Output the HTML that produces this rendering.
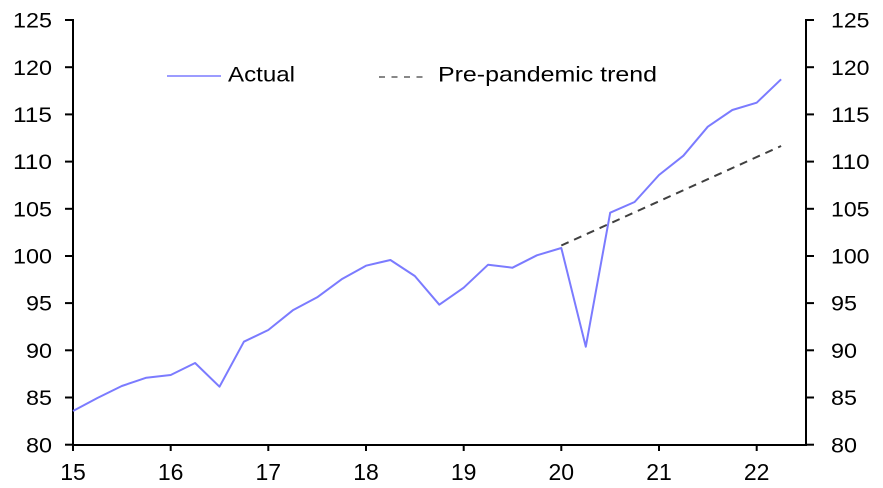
<!DOCTYPE html>
<html>
<head>
<meta charset="utf-8">
<style>
  html, body { margin: 0; padding: 0; background: #ffffff; }
  svg { display: block; }
  text { font-family: "Liberation Sans", Arial, sans-serif; fill: #000; }
</style>
</head>
<body>
<svg width="883" height="488" viewBox="0 0 883 488" xmlns="http://www.w3.org/2000/svg">
  <rect x="0" y="0" width="883" height="488" fill="#ffffff"/>

  <!-- Axes -->
  <g stroke="#000" stroke-width="2" fill="none">
    <line x1="73" y1="19" x2="73" y2="446"/>
    <line x1="806" y1="19" x2="806" y2="446"/>
    <line x1="72" y1="445" x2="807" y2="445"/>
    <!-- left ticks -->
    <line x1="65" y1="444.7" x2="73" y2="444.7"/>
    <line x1="65" y1="397.5" x2="73" y2="397.5"/>
    <line x1="65" y1="350.3" x2="73" y2="350.3"/>
    <line x1="65" y1="303.1" x2="73" y2="303.1"/>
    <line x1="65" y1="256.0" x2="73" y2="256.0"/>
    <line x1="65" y1="208.8" x2="73" y2="208.8"/>
    <line x1="65" y1="161.6" x2="73" y2="161.6"/>
    <line x1="65" y1="114.4" x2="73" y2="114.4"/>
    <line x1="65" y1="67.2" x2="73" y2="67.2"/>
    <line x1="65" y1="20.0" x2="73" y2="20.0"/>
    <!-- right ticks -->
    <line x1="806" y1="444.7" x2="814" y2="444.7"/>
    <line x1="806" y1="397.5" x2="814" y2="397.5"/>
    <line x1="806" y1="350.3" x2="814" y2="350.3"/>
    <line x1="806" y1="303.1" x2="814" y2="303.1"/>
    <line x1="806" y1="256.0" x2="814" y2="256.0"/>
    <line x1="806" y1="208.8" x2="814" y2="208.8"/>
    <line x1="806" y1="161.6" x2="814" y2="161.6"/>
    <line x1="806" y1="114.4" x2="814" y2="114.4"/>
    <line x1="806" y1="67.2" x2="814" y2="67.2"/>
    <line x1="806" y1="20.0" x2="814" y2="20.0"/>
    <!-- bottom ticks -->
    <line x1="73" y1="445" x2="73" y2="451"/>
    <line x1="170.7" y1="445" x2="170.7" y2="451"/>
    <line x1="268.3" y1="445" x2="268.3" y2="451"/>
    <line x1="366" y1="445" x2="366" y2="451"/>
    <line x1="463.7" y1="445" x2="463.7" y2="451"/>
    <line x1="561.3" y1="445" x2="561.3" y2="451"/>
    <line x1="659" y1="445" x2="659" y2="451"/>
    <line x1="756.7" y1="445" x2="756.7" y2="451"/>
  </g>

  <!-- Left y labels (right-aligned at x=52) -->
  <g font-size="21.5" text-anchor="end">
    <text x="52" y="452.3" textLength="26" lengthAdjust="spacingAndGlyphs">80</text>
    <text x="52" y="405.1" textLength="26" lengthAdjust="spacingAndGlyphs">85</text>
    <text x="52" y="357.9" textLength="26" lengthAdjust="spacingAndGlyphs">90</text>
    <text x="52" y="310.7" textLength="26" lengthAdjust="spacingAndGlyphs">95</text>
    <text x="52" y="263.6" textLength="39" lengthAdjust="spacingAndGlyphs">100</text>
    <text x="52" y="216.4" textLength="39" lengthAdjust="spacingAndGlyphs">105</text>
    <text x="52" y="169.2" textLength="39" lengthAdjust="spacingAndGlyphs">110</text>
    <text x="52" y="122.0" textLength="39" lengthAdjust="spacingAndGlyphs">115</text>
    <text x="52" y="74.8" textLength="39" lengthAdjust="spacingAndGlyphs">120</text>
    <text x="52" y="27.6" textLength="39" lengthAdjust="spacingAndGlyphs">125</text>
  </g>

  <!-- Right y labels (left-aligned at x=831) -->
  <g font-size="21.5" text-anchor="start">
    <text x="831" y="452.3" textLength="26" lengthAdjust="spacingAndGlyphs">80</text>
    <text x="831" y="405.1" textLength="26" lengthAdjust="spacingAndGlyphs">85</text>
    <text x="831" y="357.9" textLength="26" lengthAdjust="spacingAndGlyphs">90</text>
    <text x="831" y="310.7" textLength="26" lengthAdjust="spacingAndGlyphs">95</text>
    <text x="831" y="263.6" textLength="38.5" lengthAdjust="spacingAndGlyphs">100</text>
    <text x="831" y="216.4" textLength="38.5" lengthAdjust="spacingAndGlyphs">105</text>
    <text x="831" y="169.2" textLength="38.5" lengthAdjust="spacingAndGlyphs">110</text>
    <text x="831" y="122.0" textLength="38.5" lengthAdjust="spacingAndGlyphs">115</text>
    <text x="831" y="74.8" textLength="38.5" lengthAdjust="spacingAndGlyphs">120</text>
    <text x="831" y="27.6" textLength="38.5" lengthAdjust="spacingAndGlyphs">125</text>
  </g>

  <!-- X labels -->
  <g font-size="23" text-anchor="middle">
    <text x="73" y="480">15</text>
    <text x="170.7" y="480">16</text>
    <text x="268.3" y="480">17</text>
    <text x="366" y="480">18</text>
    <text x="463.7" y="480">19</text>
    <text x="561.3" y="480">20</text>
    <text x="659" y="480">21</text>
    <text x="756.7" y="480">22</text>
  </g>

  <!-- Pre-pandemic trend -->
  <line x1="561.3" y1="245.5" x2="781.1" y2="146" stroke="#404040" stroke-width="2" stroke-dasharray="8,6"/>

  <!-- Actual -->
  <polyline fill="none" stroke="#7b7bff" stroke-width="2" stroke-linejoin="round"
    points="73,411 97.4,398 121.8,386 146.3,377.7 170.7,375 195.1,363 219.5,386.7 243.9,341.7 268.3,330 292.8,310.3 317.2,297.3 341.6,279.3 366,265.7 390.4,260 414.8,276 439.3,304.7 463.7,287.7 488.1,264.7 512.5,267.7 536.9,255.3 561.3,248 585.8,346.7 610.2,212.7 634.6,202 659,175 683.4,155.7 707.8,126.7 732.3,110 756.7,102.7 781.1,79.3"/>

  <!-- Legend -->
  <line x1="167" y1="76" x2="221" y2="76" stroke="#7b7bff" stroke-width="1.5"/>
  <text x="228" y="81.5" font-size="21.5" textLength="67" lengthAdjust="spacingAndGlyphs">Actual</text>
  <line x1="379" y1="77" x2="429" y2="77" stroke="#404040" stroke-width="1.3" stroke-dasharray="6,6.5"/>
  <text x="438" y="81.5" font-size="21.5" textLength="219" lengthAdjust="spacingAndGlyphs">Pre-pandemic trend</text>
</svg>
</body>
</html>
